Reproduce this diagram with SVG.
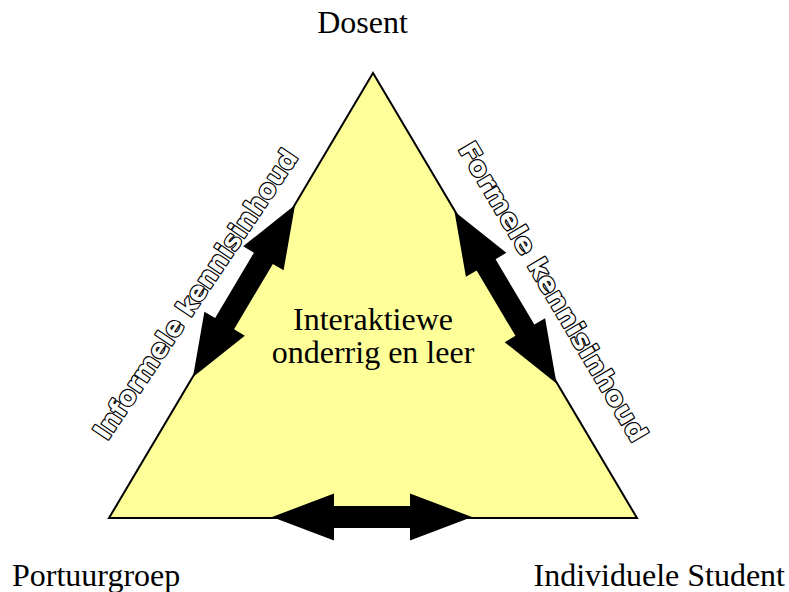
<svg xmlns="http://www.w3.org/2000/svg" width="789" height="592" viewBox="0 0 789 592">
<style>
.lbl{font-family:"Liberation Serif","Times New Roman",serif;font-size:32px;fill:#000}
.out{font-family:"DejaVu Sans","Liberation Sans",sans-serif;font-weight:bold;font-size:26px;fill:#fff;stroke:#000;stroke-width:2.4;paint-order:stroke fill;stroke-linejoin:round;text-anchor:middle}
</style>
<defs>
<path id="arr" d="M-100,0 L-38,-23.5 L-38,-11 L38,-11 L38,-23.5 L100,0 L38,23.5 L38,11 L-38,11 L-38,23.5 Z" fill="#000"/>
</defs>
<g id="triangle">
<polygon points="373,73 109,518 637,518" fill="#FFFF99" stroke="#000" stroke-width="2" stroke-linejoin="miter"/>
<text class="lbl" x="373" y="330" text-anchor="middle">Interaktiewe</text>
<text class="lbl" x="373" y="363" text-anchor="middle">onderrig en leer</text>
</g>
<g id="connectors">
<use href="#arr" transform="translate(372,517)"/>
<use href="#arr" transform="translate(244,291) rotate(-59.32)"/>
<use href="#arr" transform="translate(505.5,297.5) rotate(59.32)"/>
</g>
<g id="node-dosent"><text class="lbl" x="362.5" y="33" text-anchor="middle">Dosent</text></g>
<g id="node-portuurgroep"><text class="lbl" x="12" y="586">Portuurgroep</text></g>
<g id="node-student"><text class="lbl" x="785" y="586" text-anchor="end">Individuele Student</text></g>
<g id="label-informeel"><text class="out" transform="translate(195,294) rotate(-56)" y="9.5" textLength="343" lengthAdjust="spacingAndGlyphs">Informele kennisinhoud</text></g>
<g id="label-formeel"><text class="out" transform="translate(553.5,291.5) rotate(59.32)" y="9.5" textLength="343" lengthAdjust="spacingAndGlyphs">Formele kennisinhoud</text></g>
</svg>
